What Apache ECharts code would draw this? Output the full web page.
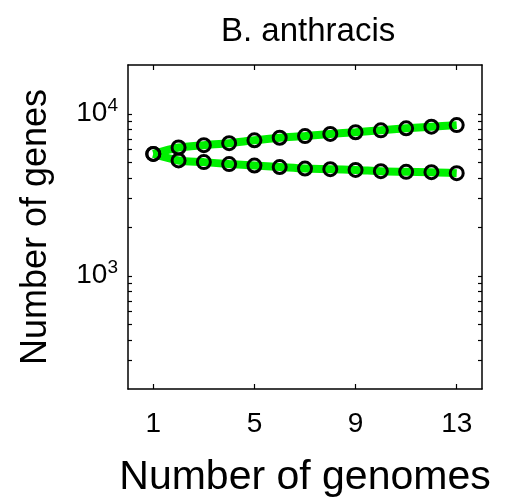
<!DOCTYPE html>
<html>
<head>
<meta charset="utf-8">
<script src="https://cdn.jsdelivr.net/npm/echarts@6/dist/echarts.min.js"></script>
<style>
  html, body { margin: 0; padding: 0; background: #ffffff; }
  #chart { width: 506px; height: 503px; }
</style>
</head>
<body>
<div id="chart"></div>
<script>
// Genomes sampled and gene counts (pan-genome grows, core genome shrinks)
const genomes   = [1, 2, 3, 4, 5, 6, 7, 8, 9, 10, 11, 12, 13];
const panGenes  = [5650, 6190, 6400, 6580, 6860, 7110, 7280, 7510, 7690, 7900, 8130, 8320, 8510];
const coreGenes = [5650, 5150, 5030, 4890, 4790, 4690, 4590, 4550, 4500, 4420, 4380, 4360, 4300];

// Axis ticks
const xTicks      = [1, 5, 9, 13];
const xRange      = [0, 14];
const yDecades    = [1000, 10000];
const yMinorTicks = [300, 400, 500, 600, 700, 800, 900, 2000, 3000, 4000, 5000, 6000, 7000, 8000, 9000];
const yRange      = [200, 20000];

const FONT = "'Liberation Sans', Arial, Helvetica, sans-serif";
const lg = v => Math.log10(v);
const pairs = ys => genomes.map((g, i) => [g, lg(ys[i])]);

const yTickVals = yMinorTicks.concat(yDecades).map(lg);
const yLabelVals = yDecades.map(lg);

const axisLine = { show: true, onZero: false, lineStyle: { color: '#000', width: 1.5 } };
const tickStyle = { lineStyle: { color: '#000', width: 1.2 } };

function xAxisDef(pos, withLabels) {
  return {
    type: 'value', position: pos, min: xRange[0], max: xRange[1],
    axisLine: axisLine, splitLine: { show: false },
    axisTick: Object.assign({ show: true, inside: true, length: 5, customValues: xTicks }, tickStyle),
    axisLabel: withLabels
      ? { show: true, customValues: xTicks, fontSize: 28, color: '#000', fontFamily: FONT, margin: 21 }
      : { show: false },
    name: withLabels ? 'Number of genomes' : '',
    nameLocation: 'middle', nameGap: 68,
    nameTextStyle: { fontSize: 41, color: '#000', fontFamily: FONT }
  };
}

function yAxisDef(pos, withLabels) {
  return {
    type: 'value', position: pos, min: lg(yRange[0]), max: lg(yRange[1]),
    axisLine: axisLine, splitLine: { show: false },
    axisTick: Object.assign({ show: true, inside: true, length: 4, customValues: yTickVals }, tickStyle),
    axisLabel: withLabels ? {
      show: true, customValues: yLabelVals, margin: 10, color: '#000', fontFamily: FONT,
      formatter: v => '{b|10}{s|' + Math.round(v) + '}',
      rich: {
        b: { fontSize: 28, fontFamily: FONT, color: '#000' },
        s: { fontSize: 19, fontFamily: FONT, color: '#000', padding: [0, 0, 16, 0] }
      }
    } : { show: false },
    name: withLabels ? 'Number of genes' : '',
    nameLocation: 'middle', nameGap: 74,
    nameTextStyle: { fontSize: 36, color: '#000', fontFamily: FONT }
  };
}

function fitLine(ys) {
  return {
    type: 'line', data: pairs(ys), smooth: 0.3, showSymbol: false, symbol: 'none',
    lineStyle: { color: '#00f000', width: 8, cap: 'butt' }, z: 2, silent: true
  };
}
function points(ys) {
  return {
    type: 'scatter', data: pairs(ys), symbol: 'circle', symbolSize: 13,
    itemStyle: { color: 'rgba(0,0,0,0)', borderColor: '#000', borderWidth: 3, opacity: 1 }, z: 3
  };
}

const chart = echarts.init(document.getElementById('chart'), null, { renderer: 'canvas' });
chart.setOption({
  animation: false,
  backgroundColor: '#ffffff',
  title: {
    text: 'B. anthracis', left: 216, top: 10,
    textStyle: { fontSize: 33, fontWeight: 'normal', color: '#000', fontFamily: FONT }
  },
  grid: { left: 128, right: 24, top: 65, bottom: 105, containLabel: false },
  xAxis: [xAxisDef('bottom', true), xAxisDef('top', false)],
  yAxis: [yAxisDef('left', true), yAxisDef('right', false)],
  series: [fitLine(panGenes), fitLine(coreGenes), points(panGenes), points(coreGenes)]
});
</script>
</body>
</html>
